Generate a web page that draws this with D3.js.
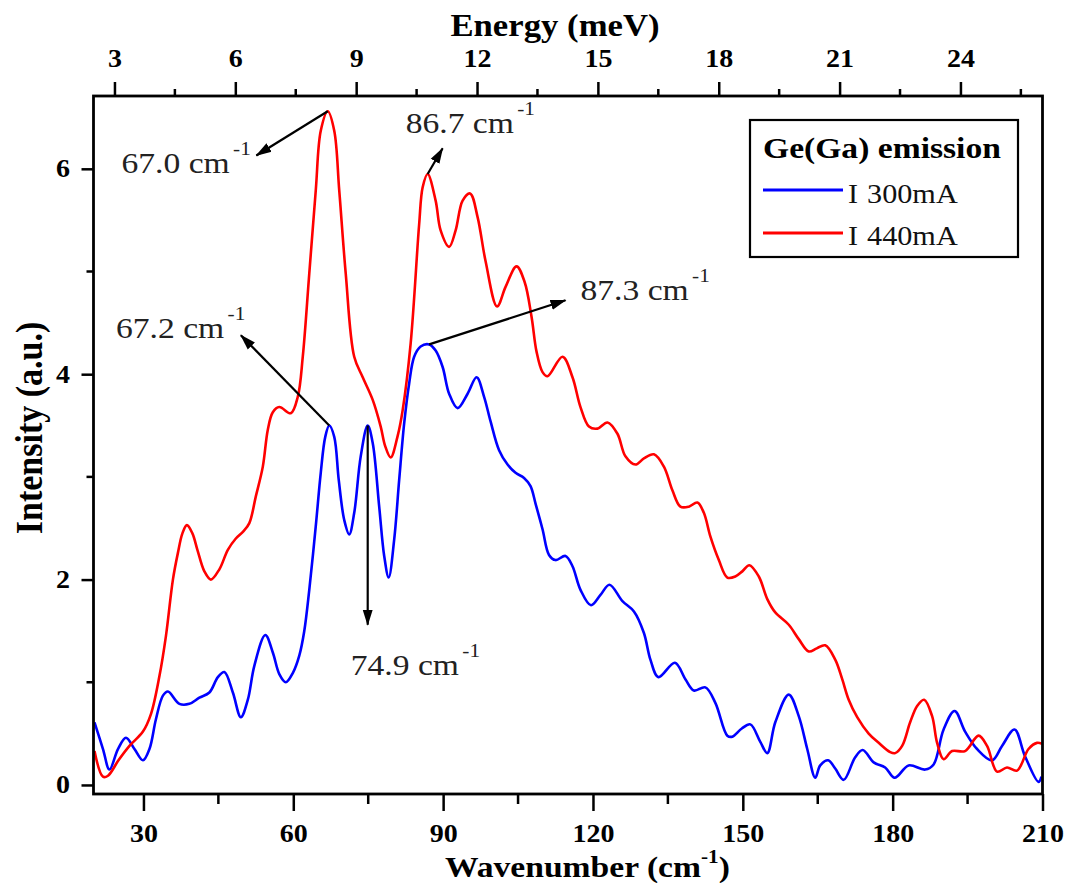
<!DOCTYPE html>
<html>
<head>
<meta charset="utf-8">
<script src="https://cdn.jsdelivr.net/npm/d3@7/dist/d3.min.js"></script>
<style>
  body { margin: 0; background: #fff; }
  svg { display: block; }
</style>
</head>
<body>
<div id="plot"></div>
<script>
// spectra (wavenumber in cm-1, intensity in a.u.)
var wave300 = [20.2, 21.9, 23.2, 24.9, 26.5, 28.2, 29.9, 31.2, 32.5, 33.9, 34.9, 37.2, 39.2, 41.2, 43.2, 44.9, 46.2, 47.9, 49.5, 50.9,
    52.2, 54.4, 55.9, 57.2, 58.5, 59.9, 61.2, 62.2, 63.2, 64.5, 65.5, 66.4, 67.2, 68.2, 69.1, 70.2, 71.2, 72.2, 73.5, 74.9,
    75.9, 77.2, 78.2, 79.1, 80.2, 81.2, 82.2, 83.2, 84.2, 85.5, 87.2, 88.5, 89.9, 91.2, 92.9, 94.9, 96.7, 98.2, 99.5, 101.2,
    102.9, 104.5, 106.2, 107.5, 108.5, 109.9, 111.2, 112.5, 114.5, 115.9, 117.5, 119.6, 121.5, 123.3, 125.9, 128.2, 130.2, 131.5, 133.1, 136.4,
    138.5, 140.2, 142.5, 144.5, 146.9, 147.9, 149.8, 151.5, 153.5, 154.9, 156.5, 159.2, 161.2, 162.9, 164.5, 165.5, 167.1, 168.5, 170.2, 172.5,
    174.0, 176.2, 178.5, 180.4, 183.2, 186.5, 188.2, 190.2, 192.4, 194.5, 196.9, 199.9, 201.9, 204.4, 206.5, 209.2, 209.8]
var int300 = [0.61, 0.35, 0.15, 0.35, 0.46, 0.35, 0.24, 0.35, 0.64, 0.87, 0.91, 0.79, 0.79, 0.85, 0.90, 1.05, 1.10, 0.90, 0.66, 0.83,
    1.16, 1.46, 1.29, 1.08, 1.00, 1.09, 1.26, 1.50, 1.90, 2.52, 3.04, 3.39, 3.50, 3.39, 2.97, 2.58, 2.44, 2.65, 3.20, 3.50,
    3.33, 2.71, 2.23, 2.02, 2.39, 2.97, 3.52, 3.91, 4.17, 4.27, 4.29, 4.23, 4.07, 3.81, 3.67, 3.81, 3.97, 3.78, 3.54, 3.26,
    3.12, 3.04, 2.99, 2.91, 2.74, 2.49, 2.24, 2.19, 2.23, 2.13, 1.90, 1.75, 1.85, 1.95, 1.79, 1.69, 1.48, 1.22, 1.05, 1.19,
    1.03, 0.92, 0.95, 0.80, 0.48, 0.47, 0.55, 0.59, 0.42, 0.31, 0.61, 0.88, 0.67, 0.35, 0.07, 0.19, 0.24, 0.16, 0.05, 0.27,
    0.34, 0.22, 0.17, 0.07, 0.19, 0.15, 0.20, 0.54, 0.72, 0.52, 0.35, 0.24, 0.38, 0.54, 0.28, 0.03, 0.08]

var wave440 = [20.2, 21.9, 22.9, 25.0, 27.2, 29.9, 31.5, 33.2, 34.5, 35.9, 36.9, 37.8, 38.7, 39.8, 40.8, 42.2, 43.5, 45.2, 46.9, 48.5,
    50.0, 51.2, 52.5, 53.9, 54.9, 55.9, 57.2, 59.5, 60.9, 61.9, 63.2, 64.5, 65.5, 66.9, 68.2, 69.2, 70.5, 72.2, 73.9, 75.9,
    77.5, 78.4, 79.5, 80.9, 81.9, 83.5, 85.2, 85.9, 86.9, 88.5, 89.5, 91.2, 92.5, 93.9, 95.4, 96.9, 98.5, 100.8, 102.5, 104.7,
    106.3, 107.7, 108.7, 109.9, 110.9, 113.9, 115.9, 117.5, 119.2, 120.9, 122.9, 124.9, 126.5, 128.5, 130.2, 132.2, 134.2, 135.9, 137.5, 139.2,
    140.9, 142.2, 143.5, 145.2, 146.9, 148.5, 149.9, 151.3, 153.2, 154.9, 156.5, 159.2, 161.2, 163.2, 164.8, 166.5, 168.5, 169.9, 171.2, 172.9,
    175.2, 177.2, 179.5, 180.5, 181.9, 183.5, 184.9, 186.3, 187.9, 188.9, 190.2, 191.9, 194.5, 197.2, 198.9, 200.9, 202.9, 204.9, 207.2, 208.9, 209.9]
var int440 = [0.33, 0.08, 0.09, 0.24, 0.38, 0.52, 0.69, 1.06, 1.45, 2.00, 2.26, 2.45, 2.53, 2.45, 2.29, 2.08, 2.00, 2.10, 2.29, 2.40,
    2.47, 2.55, 2.81, 3.10, 3.46, 3.63, 3.68, 3.62, 3.78, 4.17, 4.98, 5.79, 6.37, 6.56, 6.37, 5.79, 4.98, 4.17, 3.97, 3.75,
    3.49, 3.30, 3.19, 3.40, 3.65, 4.30, 5.46, 5.82, 5.95, 5.69, 5.40, 5.24, 5.40, 5.69, 5.76, 5.53, 5.10, 4.66, 4.85, 5.05,
    4.90, 4.56, 4.22, 4.02, 3.98, 4.17, 3.97, 3.68, 3.49, 3.47, 3.53, 3.42, 3.20, 3.12, 3.18, 3.22, 3.10, 2.87, 2.71, 2.71,
    2.75, 2.65, 2.42, 2.19, 2.02, 2.03, 2.08, 2.14, 2.03, 1.81, 1.68, 1.56, 1.42, 1.30, 1.33, 1.36, 1.22, 1.03, 0.83, 0.66,
    0.50, 0.41, 0.32, 0.31, 0.38, 0.61, 0.77, 0.83, 0.67, 0.41, 0.25, 0.33, 0.33, 0.48, 0.38, 0.13, 0.17, 0.14, 0.35, 0.41, 0.40]

var seriesNames = ["I 300mA", "I 440mA"]
var seriesColors = ["#0000ff", "#ff0000"]

var waveTicks = [30, 60, 90, 120, 150, 180, 210]
var waveMinor = [45, 75, 105, 135, 165, 195]
var energyTicks = [3, 6, 9, 12, 15, 18, 21, 24]
var energyMinor = [4.5, 7.5, 10.5, 13.5, 16.5, 19.5, 22.5, 25.5]
var intTicks = [0, 2, 4, 6]
var intMinor = [1, 3, 5]

// peak labels: arrow from peak to tip, label anchor (all in data units)
var peakLabels = ["67.0", "86.7", "67.2", "74.9", "87.3"]
var arrowFrom = [[66.9, 6.56], [86.9, 5.95], [67.2, 3.50], [74.9, 3.50], [87.2, 4.29]]
var arrowTo = [[52.6, 6.13], [89.9, 6.20], [49.5, 4.38], [74.9, 1.56], [114.5, 4.72]]
var labelAt = [[25.6, 5.96], [82.5, 6.35], [24.5, 4.35], [71.5, 1.07], [117.5, 4.72]]

var MEV = 8.0655   // cm-1 per meV
var SX = 1.12      // the picture's fonts are a bit wide
var FONT = "'Liberation Serif', 'Times New Roman', serif"

var W = 1068, H = 883
var svg = d3.select("#plot").append("svg")
    .attr("width", W)
    .attr("height", H)
    .attr("font-family", FONT)

svg.append("defs").append("marker")
    .attr("id", "head")
    .attr("markerUnits", "userSpaceOnUse")
    .attr("viewBox", "0 -6 16 12")
    .attr("markerWidth", 16)
    .attr("markerHeight", 12)
    .attr("refX", 15)
    .attr("refY", 0)
    .attr("orient", "auto")
    .append("path")
        .attr("d", "M0,-5L16,0L0,5Z")
        .attr("fill", "#000")

// plot frame (window.top is reserved, hence the names)
var pLeft = 93.5, pRight = 1042.5, pTop = 96, pBottom = 794

var x = d3.scaleLinear().domain([20, 210]).range([pLeft, pRight])
var y = d3.scaleLinear().domain([-0.088, 6.709]).range([pBottom, pTop])
var xe = d3.scaleLinear().domain([20 / MEV, 210 / MEV]).range([pLeft, pRight])

function styleAxis(g, size)
{
    g.select(".domain").remove()
    g.selectAll("line").attr("stroke", "#000").attr("stroke-width", 2.5)
    g.selectAll("text")
        .attr("font-family", FONT)
        .attr("font-size", size)
        .attr("font-weight", "bold")
        .attr("fill", "#000")
        .attr("transform", "scale(" + SX + ",1)")
}

// bottom axis
var gb = svg.append("g").attr("transform", "translate(0," + pBottom + ")")
gb.call(d3.axisBottom(x).tickValues(waveTicks).tickSize(17).tickPadding(13).tickFormat(d3.format("d")))
gb.call(styleAxis, 25)
gb.selectAll(".minor").data(waveMinor).enter().append("line")
    .attr("class", "minor")
    .attr("x1", function (d) { return x(d) })
    .attr("x2", function (d) { return x(d) })
    .attr("y1", 0).attr("y2", 10)
    .attr("stroke", "#000").attr("stroke-width", 2.5)

// top axis (energy)
var gt = svg.append("g").attr("transform", "translate(0," + pTop + ")")
gt.call(d3.axisTop(xe).tickValues(energyTicks).tickSize(14).tickPadding(15).tickFormat(d3.format("d")))
gt.call(styleAxis, 25)
gt.selectAll(".minor").data(energyMinor).enter().append("line")
    .attr("class", "minor")
    .attr("x1", function (d) { return xe(d) })
    .attr("x2", function (d) { return xe(d) })
    .attr("y1", 0).attr("y2", -7)
    .attr("stroke", "#000").attr("stroke-width", 2.5)

// left axis
var gl = svg.append("g").attr("transform", "translate(" + pLeft + ",0)")
gl.call(d3.axisLeft(y).tickValues(intTicks).tickSize(12).tickPadding(9).tickFormat(d3.format("d")))
gl.call(styleAxis, 25)
gl.selectAll(".minor").data(intMinor).enter().append("line")
    .attr("class", "minor")
    .attr("y1", function (d) { return y(d) })
    .attr("y2", function (d) { return y(d) })
    .attr("x1", 0).attr("x2", -7)
    .attr("stroke", "#000").attr("stroke-width", 2.5)

// spectra
var line = d3.line()
    .x(function (d) { return x(d[0]) })
    .y(function (d) { return y(d[1]) })
    .curve(d3.curveCatmullRom.alpha(0.5))

var spectra = [d3.zip(wave300, int300), d3.zip(wave440, int440)]
svg.append("defs").append("clipPath").attr("id", "clip")
    .append("rect").attr("x", pLeft).attr("y", pTop).attr("width", pRight - pLeft).attr("height", pBottom - pTop)

svg.append("g").attr("clip-path", "url(#clip)")
    .selectAll("path").data(spectra).enter().append("path")
    .attr("d", line)
    .attr("fill", "none")
    .attr("stroke", function (d, i) { return seriesColors[i] })
    .attr("stroke-width", 2.6)
    .attr("stroke-linejoin", "round")

// frame
svg.append("rect")
    .attr("x", pLeft).attr("y", pTop)
    .attr("width", pRight - pLeft).attr("height", pBottom - pTop)
    .attr("fill", "none").attr("stroke", "#000").attr("stroke-width", 2.8)

// peak arrows and labels
peakLabels.forEach(function (lab, i)
{
    svg.append("line")
        .attr("x1", x(arrowFrom[i][0])).attr("y1", y(arrowFrom[i][1]))
        .attr("x2", x(arrowTo[i][0])).attr("y2", y(arrowTo[i][1]))
        .attr("stroke", "#000").attr("stroke-width", 2.2)
        .attr("marker-end", "url(#head)")

    var t = svg.append("text")
        .attr("transform", "translate(" + x(labelAt[i][0]) + "," + y(labelAt[i][1]) + ") scale(" + SX + ",1)")
        .attr("font-size", 30)
        .attr("fill", "#222")
    t.append("tspan").text(lab + " cm")
    t.append("tspan").attr("dx", 3).attr("dy", -18).attr("font-size", 19).text("-1")
})

// axis titles
var tb = svg.append("text")
    .attr("transform", "translate(445,877) scale(" + SX + ",1)")
    .attr("font-size", 30).attr("font-weight", "bold")
tb.append("tspan").text("Wavenumber (cm")
tb.append("tspan").attr("dy", -14).attr("font-size", 19).text("-1")
tb.append("tspan").attr("dy", 14).text(")")

svg.append("text")
    .attr("transform", "translate(555,36) scale(" + SX + ",1)")
    .attr("text-anchor", "middle")
    .attr("font-size", 31).attr("font-weight", "bold")
    .text("Energy (meV)")

svg.append("text")
    .attr("transform", "translate(42,428) scale(" + SX + ",1) rotate(-90)")
    .attr("text-anchor", "middle")
    .attr("font-size", 34).attr("font-weight", "bold")
    .text("Intensity (a.u.)")

// legend
var lg = svg.append("g").attr("transform", "translate(750,120)")
lg.append("rect")
    .attr("width", 268).attr("height", 137)
    .attr("fill", "#fff").attr("stroke", "#000").attr("stroke-width", 2.2)
lg.append("text")
    .attr("transform", "translate(13,38) scale(" + SX + ",1)")
    .attr("font-size", 30).attr("font-weight", "bold")
    .text("Ge(Ga) emission")
seriesNames.forEach(function (name, i)
{
    var parts = name.split(" ")
    lg.append("line")
        .attr("x1", 13).attr("x2", 93)
        .attr("y1", 70 + i * 43).attr("y2", 70 + i * 43)
        .attr("stroke", seriesColors[i]).attr("stroke-width", 3)
    var t = lg.append("text")
        .attr("transform", "translate(98," + (83 + i * 42) + ") scale(" + SX + ",1)")
        .attr("font-size", 27)
        .attr("fill", "#111")
    t.append("tspan").text(parts[0])
    t.append("tspan").attr("dx", 8).text(parts[1])
})
</script>
</body>
</html>
